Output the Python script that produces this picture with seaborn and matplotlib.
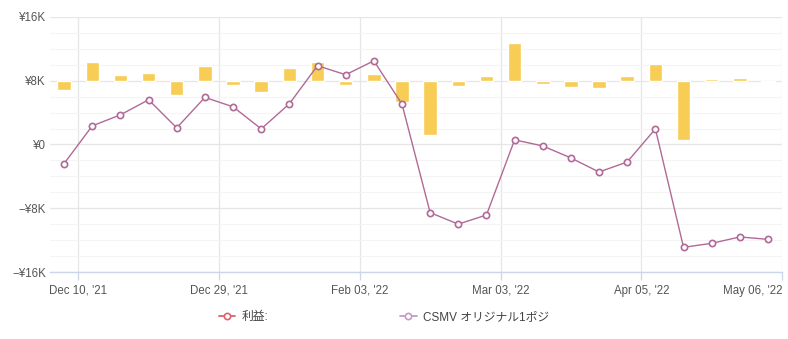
import numpy as np
import pandas as pd
import matplotlib
matplotlib.use("Agg")
import matplotlib.pyplot as plt
from matplotlib.lines import Line2D
from matplotlib.ticker import FixedLocator, MultipleLocator, FuncFormatter
import seaborn as sns

# Per-trade profit (bars) and running total (line), in yen
profit = [-2390, 4730, 1380, 1890, -3520, 3820, -1180, -2770, 3150, 4780,
          -1140, 1750, -5430, -13620, -1440, 1140, 9430, -760, -1510, -1760,
          1260, 4150, -14860, 500, 800, -300]
cumulative = [-2390, 2340, 3720, 5610, 2090, 5910, 4730, 1960, 5110, 9890,
              8750, 10500, 5070, -8550, -9990, -8850, 580, -180, -1690, -3450,
              -2190, 1960, -12900, -12400, -11600, -11900]
tick_labels = ["Dec 10, '21", "Dec 29, '21", "Feb 03, '22",
               "Mar 03, '22", "Apr 05, '22", "May 06, '22"]
series_names = ["利益:", "CSMV オリジナル1ポジ"]

sns.set_theme(style="white")
plt.rcParams["font.family"] = ["Liberation Sans", "Noto Sans CJK JP", "DejaVu Sans"]

df = pd.DataFrame({"idx": np.arange(len(profit)),
                   "profit": profit, "cumulative": cumulative})

fig = plt.figure(figsize=(7.88, 3.39), dpi=100)
ax = fig.add_axes([0.0635, 0.1976, 0.929, 0.7523])
ax_bar = ax.twinx()
ax_line = ax.twinx()

n = len(profit)
xlim = (-0.5, n - 0.5)

# Base axes: grid and labels
ax.set_xlim(*xlim)
ax.set_ylim(-16000, 16000)
ax.yaxis.set_major_locator(MultipleLocator(8000))
ax.yaxis.set_minor_locator(MultipleLocator(2000))


def yen(v, _):
    k = int(round(v / 1000))
    if k == 0:
        return "¥0"
    return ("−¥%dK" % abs(k)) if k < 0 else ("¥%dK" % k)


ax.yaxis.set_major_formatter(FuncFormatter(yen))
ax.grid(which="major", axis="y", color="#e6e6e6", lw=0.9)
ax.grid(which="minor", axis="y", color="#f4f4f4", lw=0.8)
tick_pos = [0.5, 5.5, 10.5, 15.5, 20.5, 25.5]
ax.xaxis.set_major_locator(FixedLocator(tick_pos))
ax.set_xticklabels(tick_labels)
ax.get_xticklabels()[-1].set_horizontalalignment("right")
ax.grid(which="major", axis="x", color="#e6e6e6", lw=0.9)
ax.tick_params(axis="x", colors="#ccd6eb", length=6, width=0.9,
               labelcolor="#555555", labelsize=8.3, pad=3, bottom=True)
ax.tick_params(axis="y", which="both", length=0, labelcolor="#555555",
               labelsize=8.3, pad=3)
for s in ["top", "right", "left"]:
    ax.spines[s].set_visible(False)
ax.spines["bottom"].set_color("#ccd6eb")
ax.spines["bottom"].set_linewidth(1.0)

# Bars on a secondary scale whose zero sits at the ¥8K line
sns.barplot(data=df, x="idx", y="profit", ax=ax_bar, color="#f7cd55",
            width=0.48, saturation=1, native_scale=True, zorder=2)
ax_bar.set_xlim(*xlim)
ax_bar.set_ylim(-48000, 16000)
ax_bar.axis("off")

# Running total line
sns.lineplot(data=df, x="idx", y="cumulative", ax=ax_line, color="#b06a96",
             lw=1.0, marker="o", markersize=4.5, markerfacecolor="white",
             markeredgecolor="#b06a96", markeredgewidth=1.2)
ax_line.set_xlim(*xlim)
ax_line.set_ylim(-16000, 16000)
ax_line.axis("off")

handles = [
    Line2D([], [], color="#d9636f", lw=1.3, marker="o", markersize=4.5,
           markerfacecolor="white", markeredgecolor="#d9636f", markeredgewidth=1.2),
    Line2D([], [], color="#c49bc7", lw=1.3, marker="o", markersize=4.5,
           markerfacecolor="white", markeredgecolor="#c49bc7", markeredgewidth=1.2),
]
fig.legend(handles, series_names, loc="center", bbox_to_anchor=(0.487, 0.065),
           ncol=2, frameon=False, fontsize=8.5, handlelength=1.4,
           handletextpad=0.5, columnspacing=11.2, labelcolor="#444444")

fig.savefig("out.png", dpi=100)
